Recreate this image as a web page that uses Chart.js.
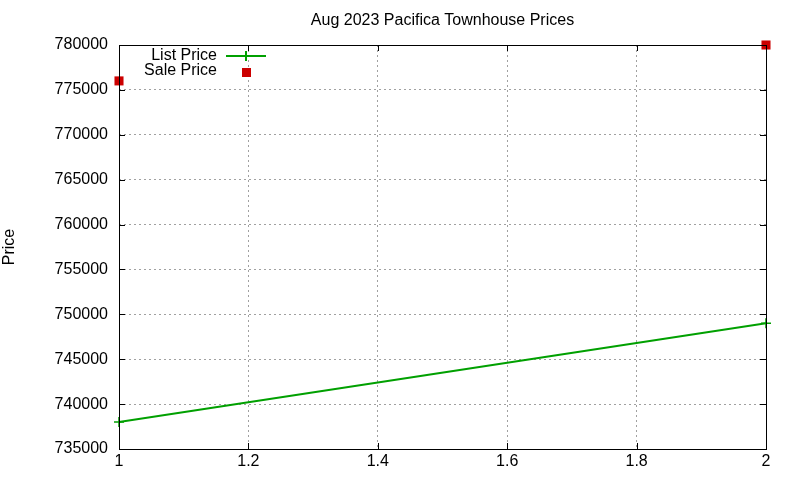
<!doctype html>
<html lang="en">
  <head>
    <meta charset="utf-8">
    <title>Aug 2023 Pacifica Townhouse Prices</title>
    <script src="https://cdn.jsdelivr.net/npm/chart.js@4.4.0/dist/chart.umd.min.js"></script>
    <style>
      html, body { margin: 0; padding: 0; background: #fff; }
      #wrap { width: 800px; height: 480px; }
    </style>
  </head>
  <body>
    <div id="wrap"><canvas id="prices" width="800" height="480"></canvas></div>

  <script>
    // data
    var xValues = [1, 2];
    var listPrices = [738000, 749000];
    var salePrices = [776000, 780000];
    var seriesNames = ['List Price', 'Sale Price'];
    var chartTitle = 'Aug 2023 Pacifica Townhouse Prices';

    var FONT = '"Liberation Sans", Arial, sans-serif';
    var GREEN = '#00a000';
    var RED = '#cc0000';

    function toPoints(xs, ys) {
      var pts = [];
      for (var i = 0; i < xs.length; i++) pts.push({x: xs[i], y: ys[i]});
      return pts;
    }

    // gnuplot-like frame, inward ticks, title over the plot and key inside it
    var framePlugin = {
      id: 'frame',
      afterDraw: function(chart) {
        var ctx = chart.ctx, a = chart.chartArea;
        var xs = chart.scales.x, ys = chart.scales.y;
        ctx.save();
        ctx.strokeStyle = '#000';
        ctx.lineWidth = 1;
        ctx.strokeRect(a.left + 0.5, a.top + 0.5, a.right - a.left, a.bottom - a.top);
        ctx.beginPath();
        ys.ticks.forEach(function(t) {
          var y = Math.round(ys.getPixelForValue(t.value)) + 0.5;
          ctx.moveTo(a.left, y); ctx.lineTo(a.left + 6, y);
          ctx.moveTo(a.right, y); ctx.lineTo(a.right - 6, y);
        });
        xs.ticks.forEach(function(t) {
          var x = Math.round(xs.getPixelForValue(t.value)) + 0.5;
          ctx.moveTo(x, a.bottom); ctx.lineTo(x, a.bottom - 6);
          ctx.moveTo(x, a.top); ctx.lineTo(x, a.top + 6);
        });
        ctx.stroke();

        // title
        ctx.fillStyle = '#000';
        ctx.font = '16px ' + FONT;
        ctx.textAlign = 'center';
        ctx.textBaseline = 'middle';
        ctx.fillText(chartTitle, (a.left + a.right) / 2, 21);

        // key
        ctx.textAlign = 'right';
        ctx.fillText(seriesNames[0], 217, 56);
        ctx.fillText(seriesNames[1], 217, 71);
        ctx.strokeStyle = GREEN;
        ctx.lineWidth = 2;
        ctx.beginPath();
        ctx.moveTo(226, 56); ctx.lineTo(266, 56);
        ctx.moveTo(246, 51); ctx.lineTo(246, 61);
        ctx.stroke();
        ctx.fillStyle = RED;
        ctx.fillRect(242, 68, 9, 9);
        ctx.restore();
      }
    };

    var ctx = document.getElementById('prices').getContext('2d');
    var chart = new Chart(ctx, {
      type: 'scatter',
      data: {
        datasets: [{
          label: seriesNames[0],
          data: toPoints(xValues, listPrices),
          showLine: true,
          borderColor: GREEN,
          backgroundColor: GREEN,
          borderWidth: 2,
          pointStyle: 'cross',
          pointRadius: 5,
          pointBorderWidth: 1.5,
          clip: false
        }, {
          label: seriesNames[1],
          data: toPoints(xValues, salePrices),
          showLine: false,
          borderColor: RED,
          backgroundColor: RED,
          pointStyle: 'rect',
          pointRadius: 6.4,
          pointBorderWidth: 0,
          clip: false
        }]
      },
      options: {
        responsive: false,
        animation: false,
        layout: { padding: { left: 0, right: 34, top: 45, bottom: 0 } },
        plugins: {
          legend: { display: false },
          tooltip: { enabled: false },
          title: { display: false }
        },
        scales: {
          x: {
            type: 'linear',
            min: 1,
            max: 2,
            ticks: {
              stepSize: 0.2,
              color: '#000',
              font: { family: FONT, size: 16 },
              padding: 3,
              maxRotation: 0,
              callback: function(v) { return String(Math.round(v * 10) / 10); }
            },
            grid: {
              color: '#a0a0a0',
              lineWidth: 1,
              drawTicks: false
            },
            border: { display: false, dash: [2, 3] },
            afterFit: function(s) { s.height = 31; }
          },
          y: {
            min: 735000,
            max: 780000,
            ticks: {
              stepSize: 5000,
              color: '#000',
              font: { family: FONT, size: 16 },
              padding: 11,
              callback: function(v) { return String(v); }
            },
            grid: {
              color: '#a0a0a0',
              lineWidth: 1,
              drawTicks: false
            },
            border: { display: false, dash: [2, 3] },
            title: {
              display: true,
              text: 'Price',
              color: '#000',
              font: { family: FONT, size: 16 },
              padding: { top: 0, bottom: 0 }
            },
            afterFit: function(s) { s.width = 119; }
          }
        }
      },
      plugins: [framePlugin]
    });
  </script>
  </body>
</html>
